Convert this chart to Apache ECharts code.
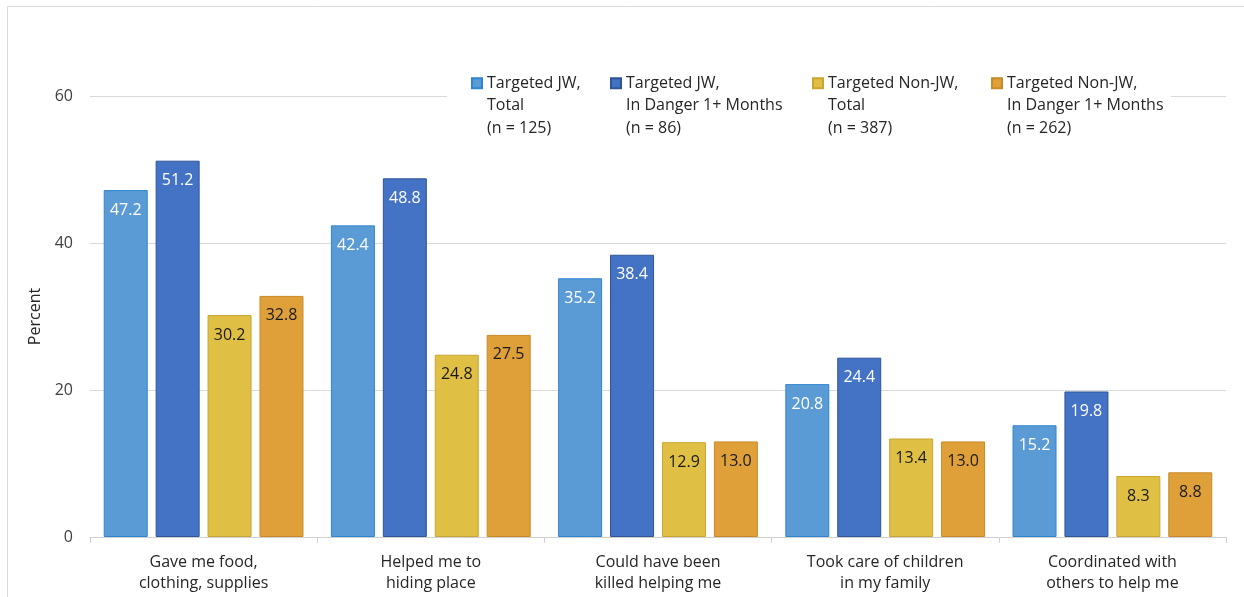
<!DOCTYPE html>
<html>
<head>
<meta charset="utf-8">
<title>Help received from rescuers</title>
<script src="https://cdn.jsdelivr.net/npm/echarts@6/dist/echarts.min.js"></script>
<style>
  html, body { margin: 0; padding: 0; background: #ffffff; }
  #chart { width: 1244px; height: 597px; }
</style>
</head>
<body>
<div id="chart"></div>
<script>
// Kinds of help, one group of bars each
const categories = [
  'Gave me food,\nclothing, supplies',
  'Helped me to\nhiding place',
  'Could have been\nkilled helping me',
  'Took care of children\nin my family',
  'Coordinated with\nothers to help me'
];

// Series names (legend text, three lines each)
const seriesNames = [
  'Targeted JW,\nTotal\n(n = 125)',
  'Targeted JW,\nIn Danger 1+ Months\n(n = 86)',
  'Targeted Non-JW,\nTotal\n(n = 387)',
  'Targeted Non-JW,\nIn Danger 1+ Months\n(n = 262)'
];

// Percent values per series
const jwTotal       = [47.2, 42.4, 35.2, 20.8, 15.2];
const jwDanger      = [51.2, 48.8, 38.4, 24.4, 19.8];
const nonJwTotal    = [30.2, 24.8, 12.9, 13.4, 8.3];
const nonJwDanger   = [32.8, 27.5, 13.0, 13.0, 8.8];

// Y axis ticks
const yTicks = [0, 20, 40, 60];

const seriesValues = [jwTotal, jwDanger, nonJwTotal, nonJwDanger];
const fills   = ['#5b9bd5', '#4472c4', '#e0bf45', '#dfa03a'];
const borders = ['#2e86d0', '#2f5597', '#c9a532', '#c88a28'];
const labelColors = ['#ffffff', '#ffffff', '#1a1a1a', '#1a1a1a'];
const legendTextWidths = [123, 186, 163, 162];

const FONT = '"Open Sans", "Noto Sans", sans-serif';

const chart = echarts.init(document.getElementById('chart'), null, { renderer: 'canvas' });

chart.setOption({
  animation: false,
  backgroundColor: '#ffffff',
  textStyle: { fontFamily: FONT },
  graphic: [{
    type: 'rect',
    z: -10,
    silent: true,
    shape: { x: 7.5, y: 6.5, width: 1400, height: 800 },
    style: { fill: 'none', stroke: '#d9d9d9', lineWidth: 1 }
  }],
  grid: { left: 90, right: 18, top: 96, bottom: 60, containLabel: false },
  legend: {
    left: 447,
    top: 27,
    orient: 'horizontal',
    itemGap: 0,
    itemWidth: 10,
    itemHeight: 10,
    icon: 'rect',
    padding: [0, 2, 0, 24],
    backgroundColor: '#ffffff',
    selectedMode: false,
    // two leading blank lines keep the swatch level with the first text line
    formatter: name => '\n\n' + name,
    textStyle: {
      fontFamily: FONT,
      fontSize: 16,
      color: '#262626',
      lineHeight: 22.5
    },
    data: seriesNames.map((n, i) => ({
      name: n,
      textStyle: { width: legendTextWidths[i] }
    }))
  },
  xAxis: {
    type: 'category',
    data: categories,
    axisLine: { lineStyle: { color: '#d0d0d0', width: 1 } },
    axisTick: { show: true, length: 6, lineStyle: { color: '#d0d0d0' } },
    axisLabel: {
      fontFamily: FONT,
      fontSize: 16,
      color: '#262626',
      lineHeight: 21,
      margin: 15,
      interval: 0
    },
    splitLine: { show: false }
  },
  yAxis: {
    type: 'value',
    min: yTicks[0],
    max: yTicks[yTicks.length - 1],
    interval: yTicks[1] - yTicks[0],
    name: 'Percent',
    nameLocation: 'middle',
    nameRotate: 90,
    nameGap: 45,
    nameTextStyle: { fontFamily: FONT, fontSize: 16, color: '#262626' },
    axisLine: { show: false },
    axisTick: { show: false },
    axisLabel: { fontFamily: FONT, fontSize: 16, color: '#404040', margin: 17 },
    splitLine: { lineStyle: { color: '#d9d9d9', width: 1 } }
  },
  series: seriesValues.map((vals, i) => ({
    name: seriesNames[i],
    type: 'bar',
    data: vals,
    barWidth: 44,
    barGap: '18%',
    itemStyle: { color: fills[i], borderColor: borders[i], borderWidth: 1 },
    label: {
      show: true,
      position: 'insideTop',
      distance: 12,
      fontFamily: FONT,
      fontSize: 16,
      color: labelColors[i],
      formatter: p => p.value.toFixed(1)
    }
  }))
});
</script>
</body>
</html>
